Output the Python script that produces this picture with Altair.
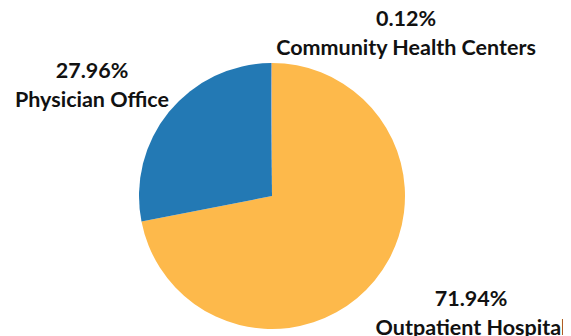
import altair as alt
import pandas as pd

categories = ["Outpatient Hospital", "Physician Office", "Community Health Centers"]
shares = [71.94, 27.96, 0.12]
colors = ["#fdb94b", "#2379b4", "#a5a5a5"]
order = [0, 1, 2]

df = pd.DataFrame({"category": categories, "share": shares, "order": order})
df["pct"] = [f"{v:.2f}%" for v in shares]

W, H = 555, 328
CX, CY, R = 264, 188, 133

pie = alt.Chart(df).mark_arc(outerRadius=R).encode(
    theta=alt.Theta("share:Q", stack=True),
    order=alt.Order("order:Q"),
    color=alt.Color("category:N", scale=alt.Scale(domain=categories, range=colors), legend=None),
    x=alt.value(CX),
    y=alt.value(CY),
)

label_pos = {
    "Community Health Centers": (398, 18),
    "Physician Office": (84, 70),
    "Outpatient Hospital": (463, 298),
}

layers = [pie]
for cat, (lx, ly) in label_pos.items():
    sub = df[df["category"] == cat].copy()
    layers.append(
        alt.Chart(sub).transform_calculate(
            lbl="[datum.pct, datum.category]"
        ).mark_text(
            font="Lato", fontWeight="bold", fontSize=21.5, lineHeight=28.5,
            align="center", baseline="alphabetic", color="#111111",
        ).encode(text="lbl:N", x=alt.value(lx), y=alt.value(ly))
    )

chart = alt.layer(*layers).properties(
    width=W, height=H, autosize=alt.AutoSizeParams(type="none"), padding=0,
    background="white",
).configure_view(strokeWidth=0)

chart.save("out.html", embed_options={"renderer": "svg", "actions": False})
